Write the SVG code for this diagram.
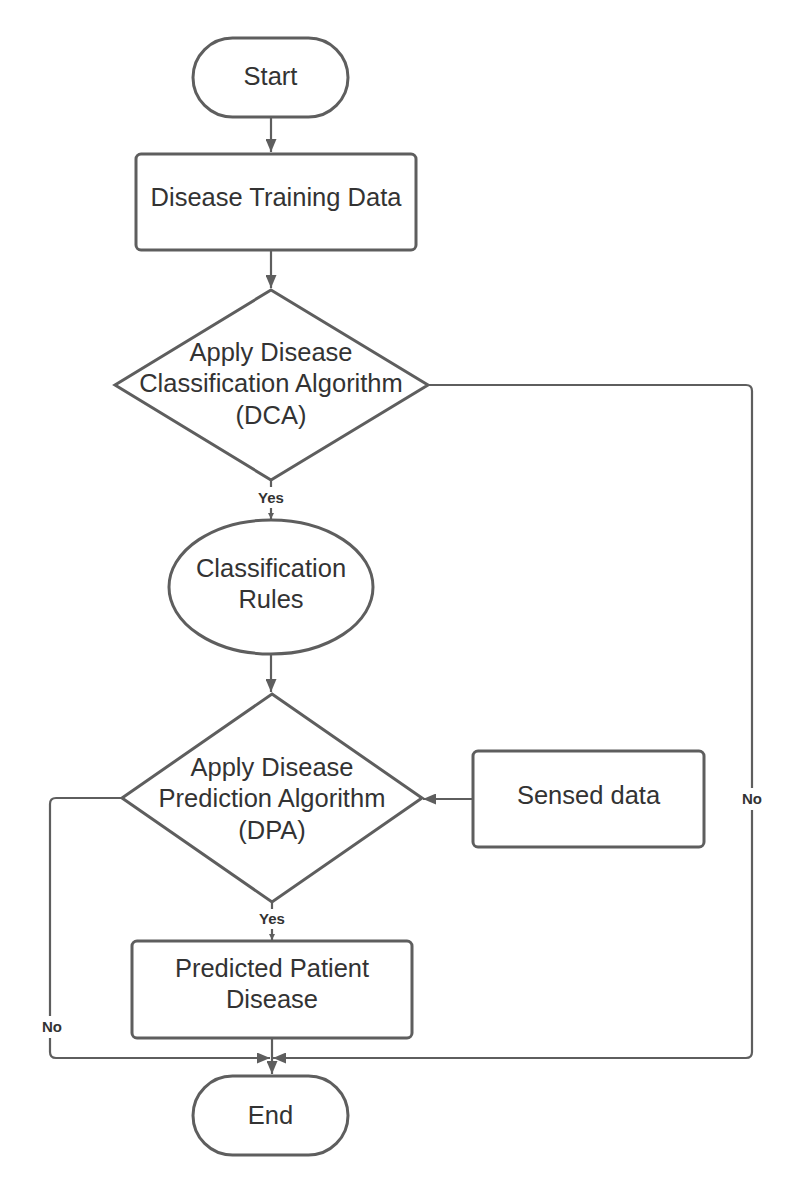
<svg xmlns="http://www.w3.org/2000/svg" width="802" height="1192" viewBox="0 0 802 1192">
<style>
.s{fill:#fff;stroke:#5e5e5e;stroke-width:3}
.t{font-family:"Liberation Sans",Arial,sans-serif;font-size:25.5px;fill:#333;text-anchor:middle}
.l{font-family:"Liberation Sans",Arial,sans-serif;font-size:15px;font-weight:bold;fill:#333;text-anchor:middle}
.c{fill:none;stroke:#5e5e5e;stroke-width:2.2}
</style>
<defs>
<marker id="a" viewBox="0 0 13 11" refX="13" refY="5.5" markerWidth="13" markerHeight="11" markerUnits="userSpaceOnUse" orient="auto"><path d="M0,0L13,5.5L0,11z" fill="#5e5e5e"/></marker>
<marker id="sm" viewBox="0 0 6 6" refX="6" refY="3" markerWidth="6" markerHeight="6" markerUnits="userSpaceOnUse" orient="auto"><path d="M0,0L6,3L0,6z" fill="#5e5e5e"/></marker>
</defs>
<rect width="802" height="1192" fill="#fff"/>
<g id="connectors">
<path class="c" d="M271,117V152" marker-end="url(#a)"/>
<path class="c" d="M271,250V288" marker-end="url(#a)"/>
<path class="c" d="M271,480V487"/>
<path class="c" d="M271,508V519" marker-end="url(#sm)"/>
<path class="c" d="M271,655V692" marker-end="url(#a)"/>
<path class="c" d="M473,799H423" marker-end="url(#a)"/>
<path class="c" d="M272,902V909"/>
<path class="c" d="M272,929V940" marker-end="url(#sm)"/>
<path class="c" d="M272,1038V1074" marker-end="url(#a)"/>
<path class="c" d="M428,385H746Q752,385 752,391V1052Q752,1058 746,1058H273" marker-end="url(#a)"/>
<path class="c" d="M122,798H56Q50,798 50,804V1052Q50,1058 56,1058H270" marker-end="url(#a)"/>
<rect x="737" y="788" width="30" height="22" fill="#fff"/>
<text class="l" x="752" y="804">No</text>
<rect x="37" y="1016" width="30" height="22" fill="#fff"/>
<text class="l" x="52" y="1032">No</text>
<text class="l" x="271" y="503">Yes</text>
<text class="l" x="272" y="924">Yes</text>
</g>
<g id="start">
<rect class="s" x="193" y="38" width="155" height="79" rx="39.5"/>
<text class="t" x="270.5" y="85">Start</text>
</g>
<g id="training">
<rect class="s" x="136" y="154" width="280" height="96" rx="5"/>
<text class="t" x="276" y="206">Disease Training Data</text>
</g>
<g id="dca">
<path class="s" d="M271,290L428,385L271,480L115,385Z"/>
<text class="t" x="271" y="361">Apply Disease</text>
<text class="t" x="271" y="392">Classification Algorithm</text>
<text class="t" x="271" y="424">(DCA)</text>
</g>
<g id="rules">
<ellipse class="s" cx="271" cy="587" rx="102" ry="67"/>
<text class="t" x="271" y="577">Classification</text>
<text class="t" x="271" y="608">Rules</text>
</g>
<g id="dpa">
<path class="s" d="M272,694L422,798L272,902L122,798Z"/>
<text class="t" x="272" y="776">Apply Disease</text>
<text class="t" x="272" y="807">Prediction Algorithm</text>
<text class="t" x="272" y="839">(DPA)</text>
</g>
<g id="sensed">
<rect class="s" x="473" y="751" width="231" height="96" rx="5"/>
<text class="t" x="588.5" y="804">Sensed data</text>
</g>
<g id="predicted">
<rect class="s" x="132" y="941" width="280" height="97" rx="5"/>
<text class="t" x="272" y="977">Predicted Patient</text>
<text class="t" x="272" y="1008">Disease</text>
</g>
<g id="end">
<rect class="s" x="193" y="1076" width="155" height="79" rx="39.5"/>
<text class="t" x="270.5" y="1124">End</text>
</g>
</svg>
